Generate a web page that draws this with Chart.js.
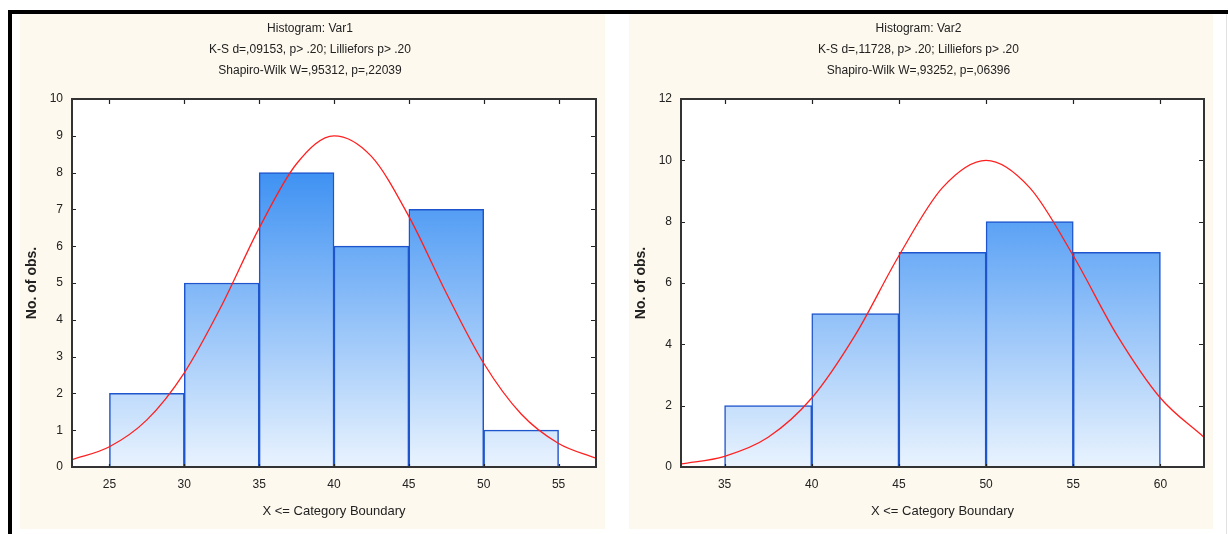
<!DOCTYPE html>
<html>
<head>
<meta charset="utf-8">
<title>Histograms</title>
<script src="https://cdn.jsdelivr.net/npm/chart.js@4.4.0/dist/chart.umd.min.js"></script>
<style>
  html, body { margin: 0; padding: 0; background: #fff; }
  body { width: 1228px; height: 534px; position: relative; overflow: hidden; }
  .bar-top { position: absolute; left: 8px; top: 10px; width: 1220px; height: 4px; background: #000; }
  .bar-left { position: absolute; left: 8px; top: 10px; width: 4px; height: 524px; background: #000; }
  .edge-right { position: absolute; left: 1226px; top: 14px; width: 1px; height: 520px; background: #e2e2e2; }
  .panel { position: absolute; top: 14px; height: 515px; background: #fef9ee; }
  #p1 { left: 20px; width: 585px; }
  #p2 { left: 629px; width: 584px; }
</style>
</head>
<body>
<div class="bar-top"></div>
<div class="bar-left"></div>
<div class="edge-right"></div>
<div class="panel" id="p1"><canvas id="var1Chart" width="585" height="515"></canvas></div>
<div class="panel" id="p2"><canvas id="var2Chart" width="584" height="515"></canvas></div>

<script>
// Var1
const var1Title = ["Histogram: Var1", "K-S d=,09153, p> .20; Lilliefors p> .20", "Shapiro-Wilk W=,95312, p=,22039"];
const var1Bounds = [25, 30, 35, 40, 45, 50, 55];
const var1Counts = [2, 5, 8, 6, 7, 1];
const var1CurveX = [22.5, 25, 27.5, 30, 32.5, 35, 37.5, 40, 42.5, 45, 47.5, 50, 52.5, 55, 57.5];
const var1CurveY = [0.2, 0.55, 1.28, 2.56, 4.39, 6.49, 8.24, 9.0, 8.44, 6.81, 4.73, 2.82, 1.44, 0.64, 0.24];
const var1XTicks = [25, 30, 35, 40, 45, 50, 55];
const var1YTicks = [0, 1, 2, 3, 4, 5, 6, 7, 8, 9, 10];

// Var2
const var2Title = ["Histogram: Var2", "K-S d=,11728, p> .20; Lilliefors p> .20", "Shapiro-Wilk W=,93252, p=,06396"];
const var2Bounds = [35, 40, 45, 50, 55, 60];
const var2Counts = [2, 5, 7, 8, 7];
const var2CurveX = [32.5, 35, 37.5, 40, 42.5, 45, 47.5, 50, 52.5, 55, 57.5, 60, 62.5];
const var2CurveY = [0.1, 0.35, 0.97, 2.25, 4.31, 6.89, 9.11, 10.0, 9.11, 6.89, 4.31, 2.25, 0.97];
const var2XTicks = [35, 40, 45, 50, 55, 60];
const var2YTicks = [0, 2, 4, 6, 8, 10, 12];

const yAxisTitle = "No. of obs.";
const xAxisTitle = "X <= Category Boundary";

const FONT = "'Liberation Sans Narrow', 'Arial Narrow', 'Liberation Sans', Arial, sans-serif";

// white plot area + frame with inward tick marks
const framePlugin = {
    id: "frame",
    beforeDatasetsDraw(chart) {
        const { ctx, chartArea: a } = chart;
        ctx.save();
        ctx.fillStyle = "#fff";
        ctx.fillRect(a.left, a.top, a.width, a.height);
        ctx.restore();
    },
    afterDraw(chart) {
        const { ctx, chartArea: a, scales } = chart;
        ctx.save();
        ctx.strokeStyle = "#222";
        ctx.lineWidth = 1.2;
        ctx.beginPath();
        scales.x.ticks.forEach((t) => {
            const px = Math.round(scales.x.getPixelForValue(t.value)) + 0.5;
            ctx.moveTo(px, a.top);
            ctx.lineTo(px, a.top + 5);
            ctx.moveTo(px, a.bottom);
            ctx.lineTo(px, a.bottom - 3);
        });
        scales.y.ticks.forEach((t) => {
            const py = Math.round(scales.y.getPixelForValue(t.value)) + 0.5;
            ctx.moveTo(a.left, py);
            ctx.lineTo(a.left + 4, py);
            ctx.moveTo(a.right, py);
            ctx.lineTo(a.right - 5, py);
        });
        ctx.stroke();
        ctx.lineWidth = 2;
        ctx.strokeStyle = "#333";
        ctx.strokeRect(a.left, a.top, a.width, a.height);
        ctx.restore();
    },
};

function barGradient(context) {
    const { ctx, chartArea } = context.chart;
    if (!chartArea) return "#7ab8f8";
    const g = ctx.createLinearGradient(0, chartArea.top, 0, chartArea.bottom);
    g.addColorStop(0, "#1479f0");
    g.addColorStop(1, "#e9f3fe");
    return g;
}

function makeHistogram(canvasId, title, bounds, counts, curveX, curveY, xTicks, yTicks) {
    const bars = counts.map((c, i) => ({ x: (bounds[i] + bounds[i + 1]) / 2, y: c }));
    const curve = curveX.map((x, i) => ({ x: x, y: curveY[i] }));

    new Chart(document.getElementById(canvasId), {
        type: "bar",
        data: {
            datasets: [
                {
                    type: "line",
                    data: curve,
                    borderColor: "#ff1f1f",
                    borderWidth: 1.3,
                    pointRadius: 0,
                    fill: false,
                    cubicInterpolationMode: "monotone",
                    order: 0,
                },
                {
                    type: "bar",
                    data: bars,
                    backgroundColor: barGradient,
                    borderColor: "#1f55cc",
                    borderWidth: 1.5,
                    barPercentage: 1,
                    categoryPercentage: 1,
                    order: 1,
                },
            ],
        },
        options: {
            responsive: false,
            animation: false,
            layout: { padding: { left: 4, right: 9, top: 0, bottom: 0 } },
            plugins: {
                legend: { display: false },
                tooltip: { enabled: false },
                title: {
                    display: true,
                    text: title,
                    color: "#222",
                    font: { family: FONT, size: 12, weight: "normal", lineHeight: "21px" },
                    padding: { top: 4, bottom: 18 },
                },
            },
            scales: {
                x: {
                    type: "linear",
                    offset: false,
                    min: curveX[0],
                    max: curveX[curveX.length - 1],
                    afterBuildTicks: (scale) => {
                        scale.ticks = xTicks.map((v) => ({ value: v }));
                    },
                    afterFit: (scale) => {
                        scale.height = 62;
                    },
                    grid: { display: false, drawTicks: false, offset: false },
                    border: { display: false },
                    ticks: {
                        color: "#222",
                        padding: 10,
                        maxRotation: 0,
                        font: { family: FONT, size: 12 },
                    },
                    title: {
                        display: true,
                        text: xAxisTitle,
                        color: "#222",
                        font: { family: FONT, size: 13 },
                        padding: { top: 0, bottom: 10 },
                    },
                },
                y: {
                    min: yTicks[0],
                    max: yTicks[yTicks.length - 1],
                    afterBuildTicks: (scale) => {
                        scale.ticks = yTicks.map((v) => ({ value: v }));
                    },
                    afterFit: (scale) => {
                        scale.width = 48;
                    },
                    grid: { color: "#d8d8d8", lineWidth: 2, drawTicks: false },
                    border: { display: false },
                    ticks: {
                        color: "#222",
                        padding: 9,
                        font: { family: FONT, size: 12 },
                    },
                    title: {
                        display: true,
                        text: yAxisTitle,
                        color: "#222",
                        font: { family: FONT, size: 14, weight: "bold" },
                        padding: { top: 0, bottom: 0 },
                    },
                },
            },
        },
        plugins: [framePlugin],
    });
}

document.addEventListener("DOMContentLoaded", () => {
    makeHistogram("var1Chart", var1Title, var1Bounds, var1Counts, var1CurveX, var1CurveY, var1XTicks, var1YTicks);
    makeHistogram("var2Chart", var2Title, var2Bounds, var2Counts, var2CurveX, var2CurveY, var2XTicks, var2YTicks);
});
</script>
</body>
</html>
